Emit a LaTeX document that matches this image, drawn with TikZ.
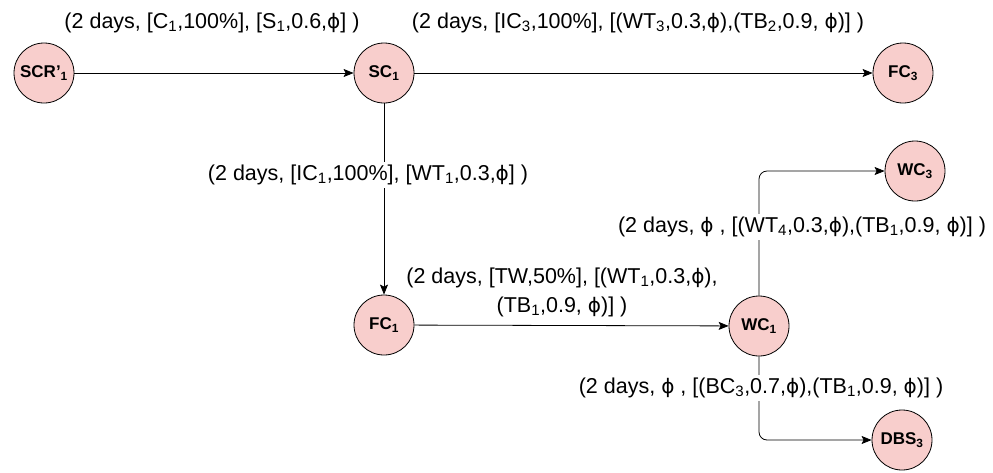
\documentclass[tikz,border=0pt]{standalone}
\usepackage{fontspec}
\setmainfont{Liberation Sans}
\newfontfamily\djv{DejaVu Sans}
\usetikzlibrary{arrows.meta}
\definecolor{pinkfill}{HTML}{F8CECC}
\newcommand{\ph}{{\djv\fontsize{20}{20}\selectfont ϕ}}
\newcommand{\sub}[1]{\textsubscript{#1}}
\begin{document}
\begin{tikzpicture}[x=1pt,y=-1pt,
  st/.style={circle,draw=black,fill=pinkfill,minimum size=60pt,inner sep=0pt,line width=0.8pt,font=\bfseries\fontsize{17}{19}\selectfont},
  lab/.style={fill=white,inner xsep=1pt,inner ysep=3pt,align=center,font=\fontsize{21.5}{29}\selectfont},
  con/.style={draw,line width=0.8pt,-{Stealth[length=10pt,width=8pt,inset=2pt]}}]
\useasboundingbox (0,0) rectangle (993,472);
\node[st] (scr) at (44,73) {SCR'\sub{1}};
\node[st] (sc) at (384,73) {SC\sub{1}};
\node[st] (fc3) at (903,73) {FC\sub{3}};
\node[st] (fc1) at (384,325) {FC\sub{1}};
\node[st] (wc1) at (759,326) {WC\sub{1}};
\node[st] (wc3) at (915,171) {WC\sub{3}};
\node[st] (dbs) at (902,440) {DBS\sub{3}};
\draw[con] (scr) -- (sc);
\draw[con] (sc) -- (fc3);
\draw[con] (sc) -- (fc1);
\draw[con] (fc1) -- (wc1);
\draw[con,rounded corners=8pt] (wc1) |- (wc3);
\draw[con,rounded corners=8pt] (wc1) |- (dbs);
\node[lab] (l1) at (212,23) {(2 days, [C\sub{1},100\%], [S\sub{1},0.6,\ph] )};
\node[lab] (l2) at (638,23) {(2 days, [IC\sub{3},100\%], [(WT\sub{3},0.3,\ph),(TB\sub{2},0.9, \ph)] )};
\node[lab] (l3) at (368,175) {(2 days, [IC\sub{1},100\%], [WT\sub{1},0.3,\ph] )};
\node[lab,fill=none] (l4) at (562,292) {(2 days, [TW,50\%], [(WT\sub{1},0.3,\ph),\\(TB\sub{1},0.9, \ph)] )};
\node[lab] (l5) at (802,227) {(2 days, \ph\ , [(WT\sub{4},0.3,\ph),(TB\sub{1},0.9, \ph)] )};
\node[lab] (l6) at (761,388) {(2 days, \ph\ , [(BC\sub{3},0.7,\ph),(TB\sub{1},0.9, \ph)] )};
\end{tikzpicture}
\end{document}
